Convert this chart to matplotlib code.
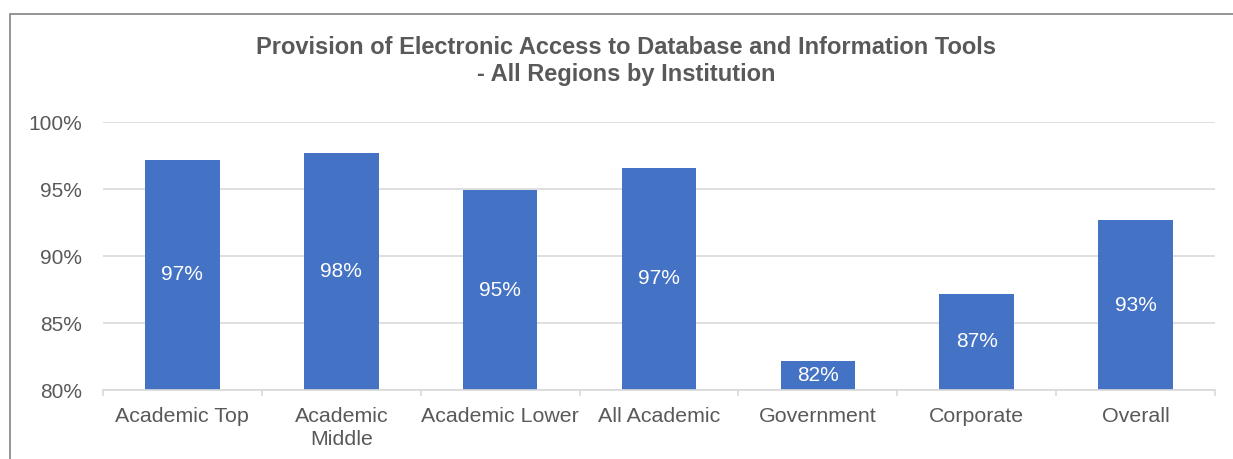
import matplotlib.pyplot as plt
from matplotlib.patches import Rectangle
from matplotlib.ticker import FixedLocator
import numpy as np

plt.rcParams['font.family'] = ['Liberation Sans', 'DejaVu Sans']

# data
categories = ['Academic Top', 'Academic\nMiddle', 'Academic Lower', 'All Academic',
              'Government', 'Corporate', 'Overall']
values = [97.2, 97.7, 94.9, 96.6, 82.2, 87.2, 92.7]
labels = ['97%', '98%', '95%', '97%', '82%', '87%', '93%']
yticks = [80, 85, 90, 95, 100]

title = 'Provision of Electronic Access to Database and Information Tools\n- All Regions by Institution'

bar_color = '#4472C4'
text_color = '#595959'
grid_color = '#D9D9D9'

fig = plt.figure(figsize=(12.33, 4.59), dpi=100)
ax = fig.add_axes([0.0835, 0.150, 0.902, 0.584])

x = np.arange(len(categories))
ax.bar(x, values, width=0.47, color=bar_color, zorder=3)

ymin, ymax = 80, 100
ax.set_ylim(ymin, ymax)
ax.set_xlim(-0.5, len(categories) - 0.5)

# value labels centred in the visible part of each bar
for xi, v, lab in zip(x, values, labels):
    ax.text(xi, (ymin + v) / 2, lab, ha='center', va='center',
            color='white', fontsize=15, zorder=4)

ax.set_yticks(yticks)
ax.set_yticklabels([f'{t}%' for t in yticks])
ax.set_xticks(x)
ax.set_xticklabels(categories, linespacing=1.3)
ax.xaxis.set_minor_locator(FixedLocator(np.arange(-0.5, len(categories), 1.0)))

ax.tick_params(axis='y', length=0, pad=15, labelsize=15, labelcolor=text_color)
ax.tick_params(axis='x', which='major', length=0, pad=12, labelsize=15.4, labelcolor=text_color)
ax.tick_params(axis='x', which='minor', length=4, width=1.2, color=grid_color)

ax.grid(axis='y', color=grid_color, linewidth=1.2, zorder=0)
for side in ['top', 'right', 'left']:
    ax.spines[side].set_visible(False)
ax.spines['bottom'].set_color(grid_color)
ax.spines['bottom'].set_linewidth(1.2)
ax.spines['bottom'].set_zorder(5)

fig.text(0.508, 0.867, title, ha='center', va='center', fontsize=17,
         fontweight='bold', color=text_color, linespacing=1.2)

# chart frame
fig.patches.append(Rectangle((9.5 / 1233, -0.1), 1.2, (1 - 14 / 459) + 0.1,
                             transform=fig.transFigure, fill=False,
                             edgecolor='#8C8C8C', linewidth=1.3))

fig.savefig('out.png', dpi=100)
